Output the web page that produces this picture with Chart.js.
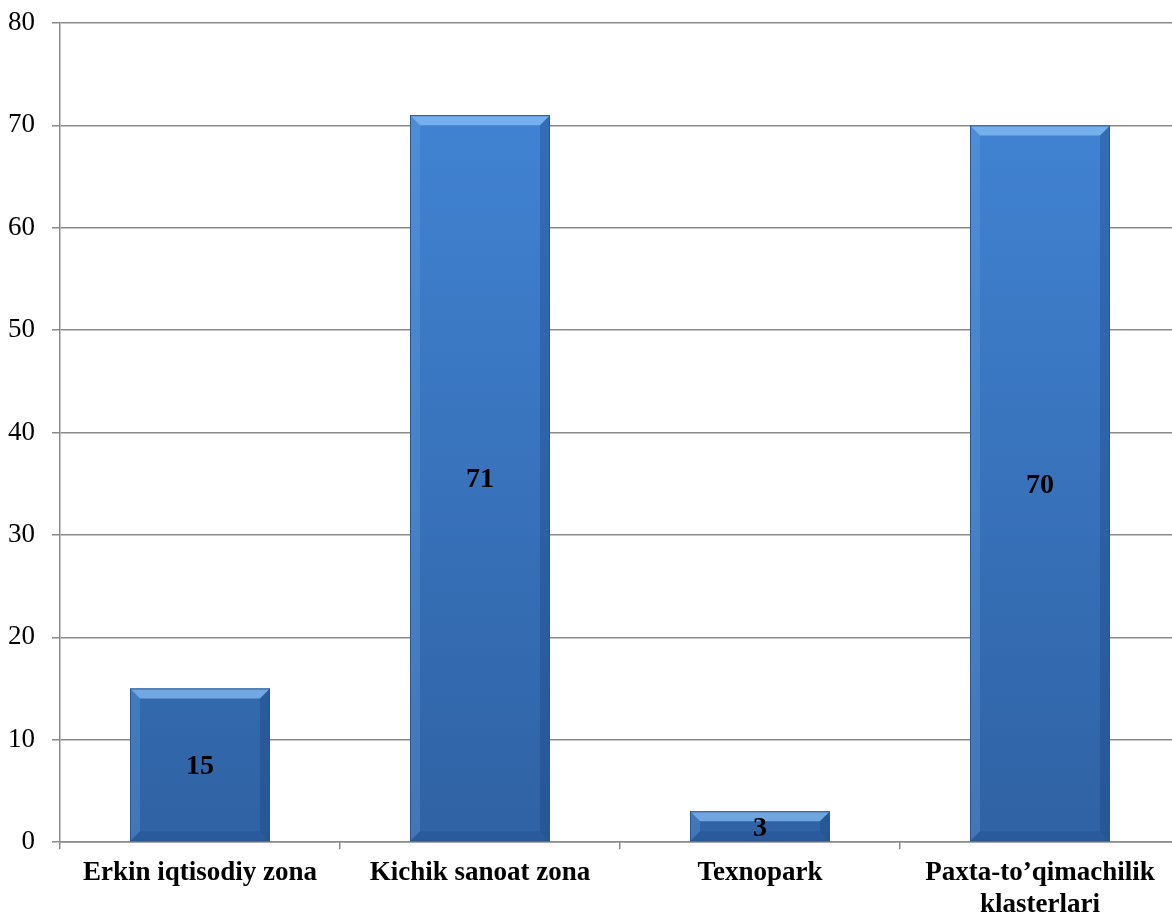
<!DOCTYPE html>
<html>
<head>
<meta charset="utf-8">
<script src="https://cdn.jsdelivr.net/npm/chart.js@4/dist/chart.umd.min.js"></script>
<style>
  html, body { margin: 0; padding: 0; background: #fff; overflow: hidden; }
  #wrap { width: 1180px; height: 913px; }
</style>
</head>
<body>
<div id="wrap"><canvas id="chart"></canvas></div>
<script>
const categories = ["Erkin iqtisodiy zona", "Kichik sanoat zona", "Texnopark", ["Paxta-to’qimachilik", "klasterlari"]];
const values = [15, 71, 3, 70];
const yTicks = [0, 10, 20, 30, 40, 50, 60, 70, 80];

function barGradient(ctx) {
    const chart = ctx.chart;
    const area = chart.chartArea;
    if (!area) return "#3d7cc9";
    const g = chart.ctx.createLinearGradient(0, area.top, 0, area.bottom);
    g.addColorStop(0, "#4387d8");
    g.addColorStop(1, "#2f62a4");
    return g;
}

// bevel edges + value labels in the middle of each bar
const bevelPlugin = {
    id: "bevel",
    afterDatasetsDraw(chart) {
        const c = chart.ctx;
        const meta = chart.getDatasetMeta(0);
        meta.data.forEach((bar, i) => {
            const l = bar.x - bar.width / 2, r = bar.x + bar.width / 2;
            const t = bar.y, b = bar.base;
            const d = Math.min(10, (b - t) / 2);
            c.save();
            c.fillStyle = "rgba(140,195,250,0.7)";
            c.beginPath();
            c.moveTo(l, t); c.lineTo(r, t); c.lineTo(r - d, t + d); c.lineTo(l + d, t + d); c.closePath(); c.fill();
            c.fillStyle = "rgba(20,60,120,0.3)";
            c.beginPath();
            c.moveTo(r, t); c.lineTo(r, b); c.lineTo(r - d, b - d); c.lineTo(r - d, t + d); c.closePath(); c.fill();
            c.fillStyle = "rgba(20,60,120,0.2)";
            c.beginPath();
            c.moveTo(l, b); c.lineTo(r, b); c.lineTo(r - d, b - d); c.lineTo(l + d, b - d); c.closePath(); c.fill();
            c.fillStyle = "rgba(110,165,230,0.3)";
            c.beginPath();
            c.moveTo(l, t); c.lineTo(l, b); c.lineTo(l + d, b - d); c.lineTo(l + d, t + d); c.closePath(); c.fill();
            c.strokeStyle = "#2a558e";
            c.lineWidth = 1;
            c.strokeRect(l + 0.5, t + 0.5, bar.width - 1, b - t - 1);

            c.fillStyle = "#000";
            c.font = "bold 28px 'Liberation Serif', 'Times New Roman', serif";
            c.textAlign = "center";
            c.textBaseline = "middle";
            c.fillText(values[i], bar.x, (t + b) / 2 + 2);
            c.restore();
        });
    }
};

const ctx = document.getElementById("chart").getContext("2d");
new Chart(ctx, {
    type: "bar",
    data: {
        labels: categories,
        datasets: [{
            data: values,
            backgroundColor: barGradient,
            borderWidth: 0,
            categoryPercentage: 0.5,
            barPercentage: 1.0
        }]
    },
    options: {
        responsive: true,
        maintainAspectRatio: false,
        animation: false,
        layout: { padding: { top: 23, left: 0, right: 0, bottom: 0 } },
        plugins: {
            legend: { display: false },
            tooltip: { enabled: false }
        },
        scales: {
            y: {
                min: 0,
                max: 80,
                afterBuildTicks: axis => { axis.ticks = yTicks.map(v => ({ value: v })); },
                afterFit: axis => { axis.width = 60; axis.paddingTop = 0; axis.paddingBottom = 0; },
                grid: { color: "#8a8a8a", lineWidth: 1.5, tickLength: 8 },
                border: { color: "#8a8a8a", width: 1.5 },
                ticks: {
                    color: "#000",
                    padding: 17,
                    font: { family: "'Liberation Serif', 'Times New Roman', serif", size: 27 }
                }
            },
            x: {
                afterFit: axis => { axis.height = 71; axis.paddingLeft = 0; axis.paddingRight = 0; },
                grid: { display: true, drawOnChartArea: false, offset: true, color: "#8a8a8a", lineWidth: 1.5, tickLength: 7 },
                border: { color: "#8a8a8a", width: 1.5 },
                ticks: {
                    color: "#000",
                    padding: 9,
                    maxRotation: 0,
                    autoSkip: false,
                    font: { family: "'Liberation Serif', 'Times New Roman', serif", size: 27, weight: "bold", lineHeight: 1.15 }
                }
            }
        }
    },
    plugins: [bevelPlugin]
});
</script>
</body>
</html>
